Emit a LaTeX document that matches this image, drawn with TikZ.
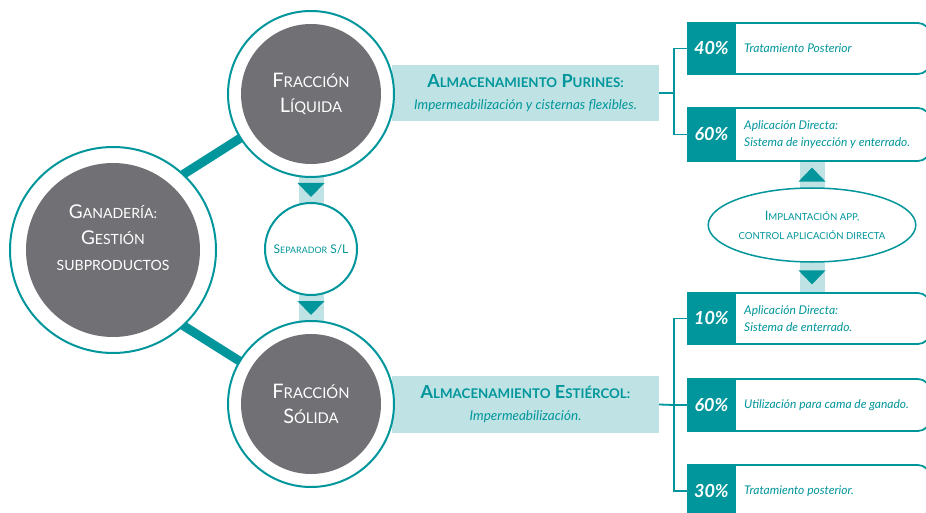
\documentclass[tikz,border=0pt]{standalone}
\usepackage{fontspec}
\setmainfont{Lato}
\usepackage{graphicx}
\usetikzlibrary{shapes.geometric}
\usetikzlibrary{backgrounds}
\usetikzlibrary{decorations.markings}

\definecolor{petrol}{HTML}{00969B}
\definecolor{mist}{HTML}{BFE3E4}
\definecolor{slate}{HTML}{717075}

\newcommand{\lc}[1]{\scalebox{0.74}{#1}}

\begin{document}
\begin{tikzpicture}[x=1pt,y=-1pt,
  ring/.style={circle,draw=petrol,line width=2pt,fill=white,inner sep=0pt},
  core/.style={circle,fill=slate,text=white,inner sep=0pt,align=center,font=\fontsize{20}{25}\selectfont},
  band/.style={fill=mist,text=petrol,align=center,inner sep=0pt,font=\fontsize{13.5}{22}\selectfont\itshape},
  spoke/.style={petrol,line width=9pt,shorten <=-6pt,shorten >=-6pt},
  flow/.style={mist,line width=25pt,shorten <=-8pt,shorten >=-8pt,postaction={decorate},
    decoration={markings,mark=at position 0.5 with {\fill[petrol] (-7,-13.5) -- (7,0) -- (-7,13.5) -- cycle;}}},
  fork/.style={petrol,line width=1.8pt},
  optbox/.style={draw=petrol,line width=1.8pt,fill=white,rounded corners=12pt,minimum width=242pt,anchor=west},
  pct/.style={fill=petrol,draw=petrol,line width=1.8pt,text=white,minimum width=47pt,anchor=west,inner sep=0pt,font=\fontsize{18}{20}\selectfont\bfseries\itshape},
  note/.style={text=petrol,anchor=west,align=left,inner sep=0pt,font=\fontsize{12}{16.5}\selectfont\itshape}]
          \useasboundingbox (0,0) rectangle (926,513);
          \clip (0,0) rectangle (926,513);
          % storage bands
          \node[band,minimum width=267pt,minimum height=56pt] (purines) at (525.5,93) {{\fontsize{18}{20}\selectfont\upshape\bfseries A\lc{LMACENAMIENTO} P\lc{URINES:}}\\Impermeabilización y cisternas flexibles.};
          \node[band,minimum width=267pt,minimum height=57pt] (estiercol) at (525.5,404.5) {{\fontsize{18}{20}\selectfont\upshape\bfseries A\lc{LMACENAMIENTO} E\lc{STIÉRCOL:}}\\Impermeabilización.};
          % ganaderia
          \node[ring,minimum size=206pt] (ganaderia) at (113,250) {};
          \node[core,minimum size=174pt] (ganaderia-core) at (ganaderia) {};
          \node[text=white,align=center,font=\fontsize{19}{26}\selectfont] (ganaderia-txt) at (113,238) {G\lc{ANADERÍA:}\\G\lc{ESTIÓN}\\\lc{SUBPRODUCTOS}};
          % fraccion liquida
          \node[ring,minimum size=166pt] (liquida) at (311,94) {};
          \node[core,minimum size=140pt] (liquida-core) at (liquida) {F\lc{RACCIÓN}\\L\lc{ÍQUIDA}};
          % separador
          \node[ring,minimum size=92pt,text=petrol,font=\fontsize{12}{14}\selectfont] (separador) at (311,249) {S\lc{EPARADOR} S/L};
          % fraccion solida
          \node[ring,minimum size=166pt] (solida) at (311,404) {};
          \node[core,minimum size=140pt] (solida-core) at (solida) {F\lc{RACCIÓN}\\S\lc{ÓLIDA}};
          % outcomes of the liquid part
          \node[optbox,minimum height=51pt] (p40) at (687,48.5) {};
          \node[pct,minimum height=51pt] (p40-pct) at (687,48.5) {40\%};
          \node[note] (p40-txt) at (744,48.5) {Tratamiento Posterior};
          \node[optbox,minimum height=53pt] (p60a) at (687,134.5) {};
          \node[pct,minimum height=53pt] (p60a-pct) at (687,134.5) {60\%};
          \node[note] (p60a-txt) at (744,134.5) {Aplicación Directa:\\Sistema de inyección y enterrado.};
          % outcomes of the solid part
          \node[optbox,minimum height=51pt] (p10) at (687,318.5) {};
          \node[pct,minimum height=51pt] (p10-pct) at (687,318.5) {10\%};
          \node[note] (p10-txt) at (744,318.5) {Aplicación Directa:\\Sistema de enterrado.};
          \node[optbox,minimum height=52pt] (p60b) at (687,405) {};
          \node[pct,minimum height=52pt] (p60b-pct) at (687,405) {60\%};
          \node[note] (p60b-txt) at (744,405) {Utilización para cama de ganado.};
          \node[optbox,minimum height=52pt] (p30) at (687,491) {};
          \node[pct,minimum height=52pt] (p30-pct) at (687,491) {30\%};
          \node[note] (p30-txt) at (744,491) {Tratamiento posterior.};
          % app control
          \node[ellipse,draw=petrol,line width=1.5pt,fill=white,minimum width=171pt,minimum height=74pt,inner sep=0pt,text=petrol,align=center,font=\fontsize{13}{19}\selectfont] (app) at (812,225) {I\lc{MPLANTACIÓN APP,}\\\lc{CONTROL APLICACIÓN DIRECTA}};
          % forks
          \coordinate (fork-top) at (674,93);
          \coordinate (fork-bottom) at (674,405);
          \draw[fork] (purines.east) -- (fork-top);
          \draw[fork] (p40.west) -| (fork-top) |- (p60a.west);
          \draw[fork] (estiercol.east) -- (fork-bottom) -- (p60b.west);
          \draw[fork] (p10.west) -| (fork-bottom) |- (p30.west);
          % spokes and flows behind the circles
          \begin{scope}[on background layer]
            \draw[spoke] (ganaderia.47) -- (liquida.212);
            \draw[spoke] (ganaderia.313) -- (solida.149);
            \draw[flow] (liquida) -- (separador);
            \draw[flow] (separador) -- (solida);
            \draw[flow] (app) -- (app |- p60a.south);
            \draw[flow] (app) -- (app |- p10.north);
          \end{scope}
        \end{tikzpicture}
\end{document}
